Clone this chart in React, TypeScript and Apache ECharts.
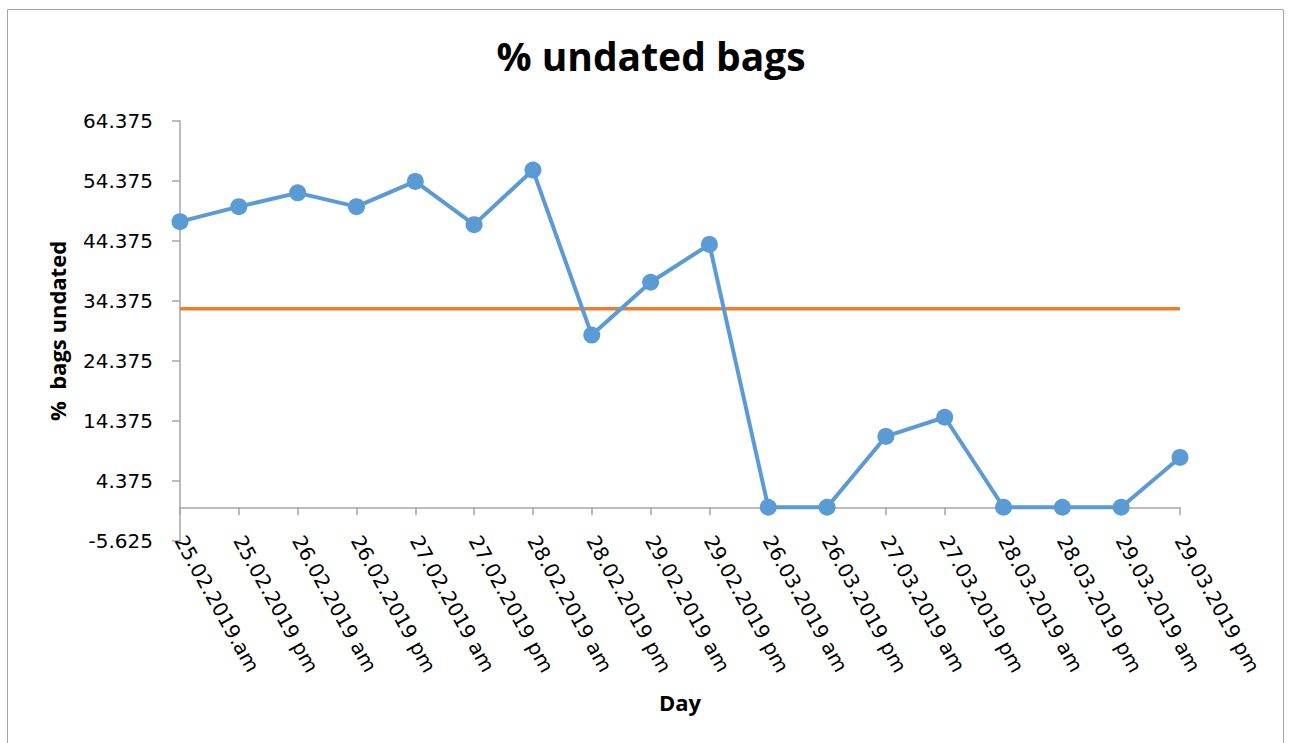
import React, { useEffect, useRef } from "react";
import * as echarts from "echarts";

const categories = [
  "25.02.2019.am",
  "25.02.2019 pm",
  "26.02.2019 am",
  "26.02.2019 pm",
  "27.02.2019 am",
  "27.02.2019 pm",
  "28.02.2019 am",
  "28.02.2019 pm",
  "29.02.2019 am",
  "29.02.2019 pm",
  "26.03.2019 am",
  "26.03.2019 pm",
  "27.03.2019 am",
  "27.03.2019 pm",
  "28.03.2019 am",
  "28.03.2019 pm",
  "29.03.2019 am",
  "29.03.2019 pm",
];

const undatedValues = [
  47.6, 50.1, 52.4, 50.1, 54.3, 47.1, 56.2, 28.7, 37.5, 43.8, 0, 0, 11.8, 15.0, 0, 0, 0, 8.3,
];

const referenceValues = categories.map(() => 33.1);

const yTickLabels = ["-5.625", "4.375", "14.375", "24.375", "34.375", "44.375", "54.375", "64.375"];
const yMin = -5.625;
const yMax = 64.375;

export default function App() {
  const ref = useRef<HTMLDivElement>(null);

  useEffect(() => {
    document.body.style.margin = "0";
    if (!ref.current) return;
    const chart = echarts.init(ref.current, undefined, { renderer: "svg" });
    const axisGray = "#a6a6a6";
    chart.setOption({
      animation: false,
      backgroundColor: "#ffffff",
      title: {
        text: "% undated bags",
        left: 646,
        top: 31,
        textAlign: "center",
        textStyle: { fontFamily: "Open Sans", fontWeight: "bold", fontSize: 39, color: "#000" },
      },
      graphic: [
        {
          type: "rect",
          shape: { x: 7.5, y: 9.5, width: 1276, height: 760 },
          style: { fill: "none", stroke: "#a6a6a6", lineWidth: 1 },
          silent: true,
        },
      ],
      grid: {
        left: 180,
        right: 111,
        top: 121,
        bottom: 202,
        containLabel: false,
        outerBoundsMode: "none",
      },
      xAxis: {
        type: "category",
        data: categories,
        boundaryGap: false,
        name: "Day",
        nameLocation: "middle",
        nameGap: 150,
        nameMoveOverlap: false,
        nameTextStyle: { fontFamily: "Open Sans", fontWeight: "bold", fontSize: 22, color: "#000" },
        axisLine: { onZero: true, onZeroAxisIndex: 1, lineStyle: { color: axisGray, width: 1.5 } },
        axisTick: { show: true, length: 8, alignWithLabel: true, lineStyle: { color: axisGray, width: 1.5 } },
        axisLabel: {
          rotate: -61,
          margin: -4,
          interval: 0,
          fontFamily: "DejaVu Sans",
          fontSize: 20,
          color: "#000",
        },
        splitLine: { show: false },
      },
      yAxis: [
        {
          type: "value",
          min: 0,
          max: 70,
          interval: 10,
          name: "%  bags undated",
          nameLocation: "middle",
          nameGap: 112,
          nameRotate: 90,
          nameMoveOverlap: false,
          nameTextStyle: { fontFamily: "Open Sans", fontWeight: "bold", fontSize: 22, color: "#000" },
          axisLine: { show: true, lineStyle: { color: axisGray, width: 1.5 } },
          axisTick: { show: true, length: 8, lineStyle: { color: axisGray, width: 1.5 } },
          axisLabel: {
            margin: 27,
            fontFamily: "DejaVu Sans",
            fontSize: 20,
            color: "#000",
            formatter: (_v: number, idx: number) => yTickLabels[idx],
          },
          splitLine: { show: false },
        },
        {
          type: "value",
          min: yMin,
          max: yMax,
          show: false,
          splitLine: { show: false },
        },
      ],
      series: [
        {
          name: "% undated",
          type: "line",
          yAxisIndex: 1,
          data: undatedValues,
          symbol: "circle",
          symbolSize: 17,
          lineStyle: { color: "#5B9BD5", width: 4 },
          itemStyle: { color: "#5B9BD5" },
          z: 3,
        },
        {
          name: "reference",
          type: "line",
          yAxisIndex: 1,
          data: referenceValues,
          symbol: "none",
          lineStyle: { color: "#ED7D31", width: 3.5 },
          itemStyle: { color: "#ED7D31" },
          z: 2,
        },
      ],
    });
    return () => chart.dispose();
  }, []);

  return <div ref={ref} style={{ width: 1291, height: 743 }} />;
}
